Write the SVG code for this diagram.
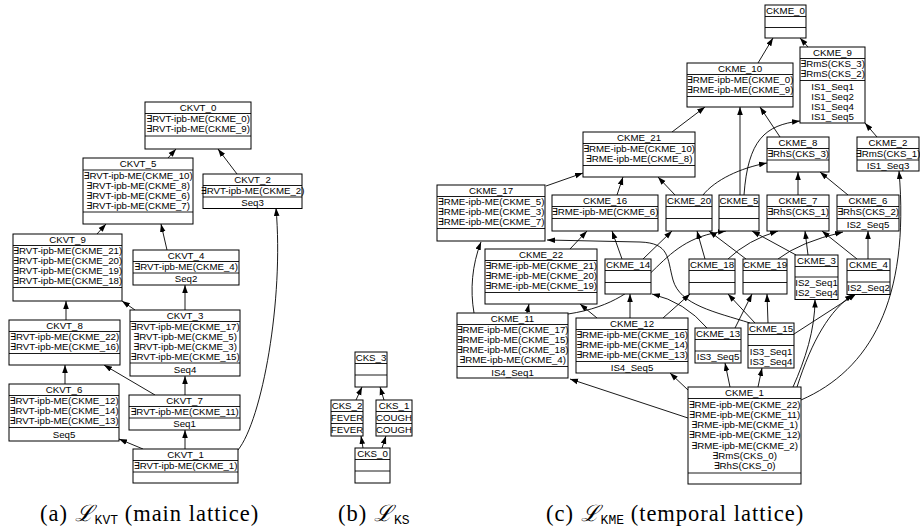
<svg xmlns="http://www.w3.org/2000/svg" width="920" height="532" viewBox="0 0 920 532">
<defs>
<style>
.b{fill:#fff;stroke:#000;stroke-width:1}
.s{stroke:#000;stroke-width:0.9;fill:none}
text{font-family:"Liberation Sans","DejaVu Sans",sans-serif;font-size:9.7px;text-anchor:middle;fill:#000}
.e{fill:none;stroke:#000;stroke-width:0.9;marker-end:url(#a)}
text.cap{font-family:"Liberation Serif","DejaVu Serif",serif;font-size:22.5px;text-anchor:start;letter-spacing:1px}
.L{font-family:"DejaVu Serif","Liberation Serif",serif;font-style:italic}
.sub{font-family:"Liberation Mono","DejaVu Sans Mono",monospace;font-size:13px;letter-spacing:0}
</style>
<marker id="a" viewBox="0 0 10 10" refX="10" refY="5" markerWidth="8" markerHeight="8" markerUnits="userSpaceOnUse" orient="auto"><path d="M0,1.5 L10,5 L0,8.5 z" fill="#000"/></marker>
</defs>
<rect width="920" height="532" fill="#fff"/>
<g id="connectors">
<path class="e" d="M168,158 L176,149"/>
<path class="e" d="M237,174 L218,149"/>
<path class="e" d="M97,234 L106,224"/>
<path class="e" d="M167,250 L161,224"/>
<path class="e" d="M185,310 L185,285"/>
<path class="e" d="M135,310 L122,301"/>
<path class="e" d="M66,320 L66,301"/>
<path class="e" d="M65,384 L65,365"/>
<path class="e" d="M185,395 L185,376"/>
<path class="e" d="M155,395 L104,365"/>
<path class="e" d="M185,449 L185,430"/>
<path class="e" d="M143,449 L119,439"/>
<path class="e" d="M238,450 C262,420 284,300 276,208"/>
<path class="e" d="M363,448 L361,436"/>
<path class="e" d="M382,448 L386,436"/>
<path class="e" d="M356,400 L362,387"/>
<path class="e" d="M384,400 L380,387"/>
<path class="e" d="M758,63 L773,38"/>
<path class="e" d="M808,47 L800,38"/>
<path class="e" d="M672,132 L705,107"/>
<path class="e" d="M780,137 L760,107"/>
<path class="e" d="M740,195 L740,107"/>
<path class="e" d="M744,195 C748,140 765,125 800,121"/>
<path class="e" d="M877,137 L865,123"/>
<path class="e" d="M703,195 C715,180 740,168 767,163"/>
<path class="e" d="M798,195 L798,172"/>
<path class="e" d="M848,195 L820,172"/>
<path class="e" d="M801,400 C870,370 910,300 899,171"/>
<path class="e" d="M546,186 L583,173"/>
<path class="e" d="M617,195 L623,177"/>
<path class="e" d="M675,195 L658,177"/>
<path class="e" d="M570,249 L587,231"/>
<path class="e" d="M622,259 L612,231"/>
<path class="e" d="M643,259 L672,231"/>
<path class="e" d="M705,259 L697,231"/>
<path class="e" d="M746,259 L709,231"/>
<path class="e" d="M568,314 C660,300 650,240 726,231"/>
<path class="e" d="M796,255 L752,231"/>
<path class="e" d="M728,259 Q748,240 778,231"/>
<path class="e" d="M778,259 Q800,242 843,232"/>
<path class="e" d="M808,255 L805,231"/>
<path class="e" d="M857,259 L822,231"/>
<path class="e" d="M868,259 L868,231"/>
<path class="e" d="M750,323 C715,312 680,305 673,280 C667,258 670,243 640,242 L547,240"/>
<path class="e" d="M474,313 C470,290 472,265 481,242"/>
<path class="e" d="M527,313 L529,304"/>
<path class="e" d="M597,318 L580,304"/>
<path class="e" d="M630,318 L630,294"/>
<path class="e" d="M663,318 L690,294"/>
<path class="e" d="M707,328 Q685,302 652,294"/>
<path class="e" d="M735,328 L752,294"/>
<path class="e" d="M755,323 L728,294"/>
<path class="e" d="M768,323 L767,294"/>
<path class="e" d="M794,334 L856,294"/>
<path class="e" d="M793,387 C805,360 815,330 815,299.5"/>
<path class="e" d="M797,387 C812,340 830,310 853,294.5"/>
<path class="e" d="M688,390 L670,373"/>
<path class="e" d="M730,387 L725,363"/>
<path class="e" d="M758,387 L762,368"/>
<path class="e" d="M688,418 L570,379"/>
</g>

<g id="CKVT_0"><rect class="b" x="145" y="102" width="106" height="47"/><path class="s" d="M145,113.5H251M145,136H251"/>
<text x="198" y="111">CKVT_0</text><text x="198" y="122">&#8707;RVT-ipb-ME(CKME_0)</text><text x="198" y="132">&#8707;RVT-ipb-ME(CKME_9)</text></g>
<g id="CKVT_2"><rect class="b" x="203" y="174" width="99" height="34.5"/><path class="s" d="M203,185.5H302M203,197H302"/>
<text x="252.5" y="183">CKVT_2</text><text x="252.5" y="194">&#8707;RVT-ipb-ME(CKME_2)</text><text x="252.5" y="205.5">Seq3</text></g>
<g id="CKVT_5"><rect class="b" x="83" y="158" width="110" height="66"/><path class="s" d="M83,170H193M83,212H193"/>
<text x="138" y="167">CKVT_5</text><text x="138" y="178.5">&#8707;RVT-ipb-ME(CKME_10)</text><text x="138" y="188.5">&#8707;RVT-ipb-ME(CKME_8)</text><text x="138" y="198.5">&#8707;RVT-ipb-ME(CKME_6)</text><text x="138" y="208.5">&#8707;RVT-ipb-ME(CKME_7)</text></g>
<g id="CKVT_9"><rect class="b" x="13" y="234" width="109" height="67"/><path class="s" d="M13,245.5H122M13,287.5H122"/>
<text x="67.5" y="243">CKVT_9</text><text x="67.5" y="254">&#8707;RVT-ipb-ME(CKME_21)</text><text x="67.5" y="264">&#8707;RVT-ipb-ME(CKME_20)</text><text x="67.5" y="274">&#8707;RVT-ipb-ME(CKME_19)</text><text x="67.5" y="284">&#8707;RVT-ipb-ME(CKME_18)</text></g>
<g id="CKVT_4"><rect class="b" x="133" y="250" width="106" height="35"/><path class="s" d="M133,261.5H239M133,273H239"/>
<text x="186" y="259">CKVT_4</text><text x="186" y="270">&#8707;RVT-ipb-ME(CKME_4)</text><text x="186" y="282">Seq2</text></g>
<g id="CKVT_3"><rect class="b" x="130" y="310" width="110" height="66"/><path class="s" d="M130,321.5H240M130,363H240"/>
<text x="185" y="319">CKVT_3</text><text x="185" y="330">&#8707;RVT-ipb-ME(CKME_17)</text><text x="185" y="340">&#8707;RVT-ipb-ME(CKME_5)</text><text x="185" y="350">&#8707;RVT-ipb-ME(CKME_3)</text><text x="185" y="360">&#8707;RVT-ipb-ME(CKME_15)</text><text x="185" y="372.5">Seq4</text></g>
<g id="CKVT_8"><rect class="b" x="9" y="320" width="111" height="45"/><path class="s" d="M9,331.5H120M9,353.5H120"/>
<text x="64.5" y="329">CKVT_8</text><text x="64.5" y="340">&#8707;RVT-ipb-ME(CKME_22)</text><text x="64.5" y="350">&#8707;RVT-ipb-ME(CKME_16)</text></g>
<g id="CKVT_6"><rect class="b" x="9" y="384" width="110" height="57"/><path class="s" d="M9,395.5H119M9,427.5H119"/>
<text x="64" y="393">CKVT_6</text><text x="64" y="404">&#8707;RVT-ipb-ME(CKME_12)</text><text x="64" y="414">&#8707;RVT-ipb-ME(CKME_14)</text><text x="64" y="424">&#8707;RVT-ipb-ME(CKME_13)</text><text x="64" y="437.5">Seq5</text></g>
<g id="CKVT_7"><rect class="b" x="129" y="395" width="111" height="35"/><path class="s" d="M129,406.5H240M129,418H240"/>
<text x="184.5" y="404">CKVT_7</text><text x="184.5" y="415">&#8707;RVT-ipb-ME(CKME_11)</text><text x="184.5" y="427">Seq1</text></g>
<g id="CKVT_1"><rect class="b" x="133" y="449" width="105" height="34"/><path class="s" d="M133,460.5H238M133,472H238"/>
<text x="185.5" y="458">CKVT_1</text><text x="185.5" y="469">&#8707;RVT-ipb-ME(CKME_1)</text></g>

<g id="CKS_3"><rect class="b" x="355" y="352" width="32" height="35"/><path class="s" d="M355,363.5H387M355,375H387"/>
<text x="371" y="361">CKS_3</text></g>
<g id="CKS_2"><rect class="b" x="331" y="400" width="32" height="36"/><path class="s" d="M331,411.5H363M331,423.5H363"/>
<text x="347" y="409">CKS_2</text><text x="347" y="420.5">FEVER</text><text x="347" y="432.5">FEVER</text></g>
<g id="CKS_1"><rect class="b" x="376" y="400" width="36" height="36"/><path class="s" d="M376,411.5H412M376,423.5H412"/>
<text x="394" y="409">CKS_1</text><text x="394" y="420.5">COUGH</text><text x="394" y="432.5">COUGH</text></g>
<g id="CKS_0"><rect class="b" x="355" y="448" width="35" height="35"/><path class="s" d="M355,459.5H390M355,471H390"/>
<text x="372.5" y="457">CKS_0</text></g>

<g id="CKME_0"><rect class="b" x="765" y="5" width="41" height="33"/><path class="s" d="M765,16.5H806M765,27.5H806"/>
<text x="785.5" y="14">CKME_0</text></g>
<g id="CKME_9"><rect class="b" x="800" y="47" width="65" height="76"/><path class="s" d="M800,58.5H865M800,80.5H865"/>
<text x="832.5" y="56">CKME_9</text><text x="832.5" y="67">&#8707;RmS(CKS_3)</text><text x="832.5" y="77">&#8707;RmS(CKS_2)</text><text x="832.5" y="89.5">IS1_Seq1</text><text x="832.5" y="99.5">IS1_Seq2</text><text x="832.5" y="109.5">IS1_Seq4</text><text x="832.5" y="119.5">IS1_Seq5</text></g>
<g id="CKME_10"><rect class="b" x="687" y="63" width="106" height="44"/><path class="s" d="M687,74.5H793M687,96.5H793"/>
<text x="740" y="72">CKME_10</text><text x="740" y="83">&#8707;RME-ipb-ME(CKME_0)</text><text x="740" y="93">&#8707;RME-ipb-ME(CKME_9)</text></g>
<g id="CKME_8"><rect class="b" x="767" y="137" width="62" height="35"/><path class="s" d="M767,148.5H829M767,160H829"/>
<text x="798" y="146">CKME_8</text><text x="798" y="157">&#8707;RhS(CKS_3)</text></g>
<g id="CKME_2"><rect class="b" x="857" y="137" width="62" height="34"/><path class="s" d="M857,148.5H919M857,160H919"/>
<text x="888" y="146">CKME_2</text><text x="888" y="157">&#8707;RmS(CKS_1)</text><text x="888" y="168.5">IS1_Seq3</text></g>
<g id="CKME_21"><rect class="b" x="583" y="132" width="112" height="45"/><path class="s" d="M583,143.5H695M583,165.5H695"/>
<text x="639" y="141">CKME_21</text><text x="639" y="152">&#8707;RME-ipb-ME(CKME_10)</text><text x="639" y="162">&#8707;RME-ipb-ME(CKME_8)</text></g>
<g id="CKME_17"><rect class="b" x="437" y="185" width="108" height="56"/><path class="s" d="M437,196.5H545M437,228.5H545"/>
<text x="491" y="194">CKME_17</text><text x="491" y="205">&#8707;RME-ipb-ME(CKME_5)</text><text x="491" y="215">&#8707;RME-ipb-ME(CKME_3)</text><text x="491" y="225">&#8707;RME-ipb-ME(CKME_7)</text></g>
<g id="CKME_16"><rect class="b" x="552" y="195" width="106" height="36"/><path class="s" d="M552,206.5H658M552,218.5H658"/>
<text x="605" y="204">CKME_16</text><text x="605" y="215">&#8707;RME-ipb-ME(CKME_6)</text></g>
<g id="CKME_20"><rect class="b" x="666" y="195" width="46" height="36"/><path class="s" d="M666,206.5H712M666,218.5H712"/>
<text x="689" y="204">CKME_20</text></g>
<g id="CKME_5"><rect class="b" x="719" y="195" width="40" height="36"/><path class="s" d="M719,206.5H759M719,218.5H759"/>
<text x="739" y="204">CKME_5</text></g>
<g id="CKME_7"><rect class="b" x="767" y="195" width="62" height="36"/><path class="s" d="M767,206.5H829M767,218.5H829"/>
<text x="798" y="204">CKME_7</text><text x="798" y="215">&#8707;RhS(CKS_1)</text></g>
<g id="CKME_6"><rect class="b" x="837" y="195" width="62" height="36"/><path class="s" d="M837,206.5H899M837,218.5H899"/>
<text x="868" y="204">CKME_6</text><text x="868" y="215">&#8707;RhS(CKS_2)</text><text x="868" y="227.5">IS2_Seq5</text></g>
<g id="CKME_22"><rect class="b" x="485" y="249" width="112" height="55"/><path class="s" d="M485,260.5H597M485,292.5H597"/>
<text x="541" y="258">CKME_22</text><text x="541" y="269">&#8707;RME-ipb-ME(CKME_21)</text><text x="541" y="279">&#8707;RME-ipb-ME(CKME_20)</text><text x="541" y="289">&#8707;RME-ipb-ME(CKME_19)</text></g>
<g id="CKME_14"><rect class="b" x="605" y="259" width="46" height="35"/><path class="s" d="M605,270.5H651M605,282.5H651"/>
<text x="628" y="268">CKME_14</text></g>
<g id="CKME_18"><rect class="b" x="689" y="259" width="46" height="35"/><path class="s" d="M689,270.5H735M689,282.5H735"/>
<text x="712" y="268">CKME_18</text></g>
<g id="CKME_19"><rect class="b" x="743" y="259" width="44" height="35"/><path class="s" d="M743,270.5H787M743,282.5H787"/>
<text x="765" y="268">CKME_19</text></g>
<g id="CKME_3"><rect class="b" x="795" y="255" width="43" height="44.5"/><path class="s" d="M795,266.5H838M795,277H838"/>
<text x="816.5" y="264">CKME_3</text><text x="816.5" y="286">IS2_Seq1</text><text x="816.5" y="296">IS2_Seq4</text></g>
<g id="CKME_4"><rect class="b" x="847" y="259" width="43" height="35.5"/><path class="s" d="M847,270.5H890M847,282H890"/>
<text x="868.5" y="268">CKME_4</text><text x="868.5" y="291">IS2_Seq2</text></g>
<g id="CKME_11"><rect class="b" x="457" y="313" width="111" height="65"/><path class="s" d="M457,324.5H568M457,366.5H568"/>
<text x="512.5" y="322">CKME_11</text><text x="512.5" y="333">&#8707;RME-ipb-ME(CKME_17)</text><text x="512.5" y="343">&#8707;RME-ipb-ME(CKME_15)</text><text x="512.5" y="353">&#8707;RME-ipb-ME(CKME_18)</text><text x="512.5" y="363">&#8707;RME-ipb-ME(CKME_4)</text><text x="512.5" y="375.5">IS4_Seq1</text></g>
<g id="CKME_12"><rect class="b" x="576" y="318" width="112" height="55"/><path class="s" d="M576,329.5H688M576,361.5H688"/>
<text x="632" y="327">CKME_12</text><text x="632" y="338">&#8707;RME-ipb-ME(CKME_16)</text><text x="632" y="348">&#8707;RME-ipb-ME(CKME_14)</text><text x="632" y="358">&#8707;RME-ipb-ME(CKME_13)</text><text x="632" y="370.5">IS4_Seq5</text></g>
<g id="CKME_13"><rect class="b" x="695" y="328" width="46" height="35"/><path class="s" d="M695,339.5H741M695,351H741"/>
<text x="718" y="337">CKME_13</text><text x="718" y="360">IS3_Seq5</text></g>
<g id="CKME_15"><rect class="b" x="748" y="323" width="46" height="45"/><path class="s" d="M748,334.5H794M748,345.5H794"/>
<text x="771" y="332">CKME_15</text><text x="771" y="354.5">IS3_Seq1</text><text x="771" y="364.5">IS3_Seq4</text></g>
<g id="CKME_1"><rect class="b" x="688" y="387" width="113" height="97"/><path class="s" d="M688,398.5H801M688,473H801"/>
<text x="744.5" y="396">CKME_1</text><text x="744.5" y="407.5">&#8707;RME-ipb-ME(CKME_22)</text><text x="744.5" y="417.8">&#8707;RME-ipb-ME(CKME_11)</text><text x="744.5" y="428.1">&#8707;RME-ipb-ME(CKME_1)</text><text x="744.5" y="438.4">&#8707;RME-ipb-ME(CKME_12)</text><text x="744.5" y="448.7">&#8707;RME-ipb-ME(CKME_2)</text><text x="744.5" y="459">&#8707;RmS(CKS_0)</text><text x="744.5" y="469.3">&#8707;RhS(CKS_0)</text></g>

<text class="cap" x="40" y="521">(a) <tspan class="L">ℒ</tspan><tspan class="sub" dy="3">KVT</tspan><tspan dy="-3"> (main lattice)</tspan></text>
<text class="cap" x="338" y="521">(b) <tspan class="L">ℒ</tspan><tspan class="sub" dy="3">KS</tspan></text>
<text class="cap" x="546" y="521">(c) <tspan class="L">ℒ</tspan><tspan class="sub" dy="3">KME</tspan><tspan dy="-3"> (temporal lattice)</tspan></text>
</svg>
